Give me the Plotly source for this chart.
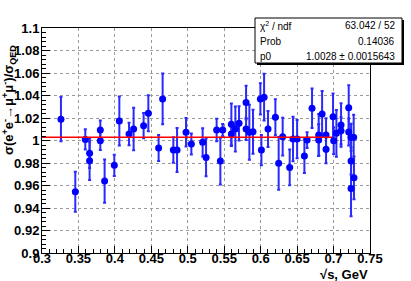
import plotly.graph_objects as go

energy = [0.326, 0.3457, 0.3594, 0.3653, 0.3653, 0.380, 0.380, 0.3859, 0.3992, 0.4061,
          0.4194, 0.4257, 0.4394, 0.4459, 0.4655, 0.460, 0.4802, 0.4853, 0.4976, 0.5049,
          0.5204, 0.5251, 0.5396, 0.5447, 0.5479, 0.5598, 0.5598, 0.5653, 0.5703, 0.580,
          0.580, 0.5845, 0.5895, 0.5996, 0.601, 0.6047, 0.6101, 0.6202, 0.6247, 0.6302,
          0.6398, 0.6444, 0.650, 0.660, 0.6637, 0.6705, 0.6796, 0.6796, 0.6843, 0.6897,
          0.6897, 0.6993, 0.7002, 0.7039, 0.7103, 0.7103, 0.7208, 0.7208, 0.724, 0.7276,
          0.724, 0.728, 0.724]
ratio = [1.019, 0.9544, 1.001, 0.9886, 0.982, 1.0094, 0.9998, 0.9639, 0.9779, 1.0174,
         1.0058, 1.0102, 1.0132, 1.0242, 1.037, 0.9933, 0.9915, 0.9915, 1.0073, 0.9969,
         0.9984, 0.985, 1.0094, 0.9817, 1.0094, 1.0144, 1.0058, 1.0102, 1.0153, 1.0337,
         1.0102, 1.0073, 1.0078, 1.037, 0.9915, 1.0385, 1.0102, 1.0207, 0.9797, 1.0034,
         0.9761, 1.0013, 1.0013, 0.9862, 1.0004, 1.0287, 1.0004, 1.0049, 1.0236, 1.0049,
         0.9922, 1.0212, 0.9998, 1.0064, 1.0138, 1.0087, 1.0292, 1.0076, 1.0029, 1.0029,
         0.9817, 0.9668, 0.9574]
ratio_err = [0.0196, 0.0178, 0.0089, 0.013, 0.017, 0.0083, 0.0083, 0.0193, 0.0094, 0.0218,
             0.010, 0.0189, 0.0113, 0.016, 0.0225, 0.0116, 0.0113, 0.0195, 0.0126, 0.0094,
             0.0126, 0.0167, 0.010, 0.0208, 0.0053, 0.0186, 0.0107, 0.020, 0.0152, 0.0149,
             0.0098, 0.0245, 0.0196, 0.0138, 0.0134, 0.0208, 0.016, 0.016, 0.0235, 0.0168,
             0.0159, 0.0197, 0.017, 0.015, 0.007, 0.0175, 0.014, 0.0187, 0.0203, 0.0149,
             0.0125, 0.0205, 0.0119, 0.0208, 0.0193, 0.012, 0.020, 0.012, 0.012, 0.020,
             0.012, 0.019, 0.0247]

fit_range = [0.3, 0.698]
fit_p0 = 1.0028
stats_labels = ["\u03c7<sup>2</sup> / ndf", "Prob", "p0"]
stats_values = ["63.042 / 52", "0.14036", "1.0028 \u00b1 0.0015643"]

W, H = 411, 281
ML, MR, MT, MB = 42, 41, 28, 28
PW, PH = W - ML - MR, H - MT - MB


def px(x):
    return (x - ML) / PW


def py(y):
    return (H - MB - y) / PH


fig = go.Figure()
fig.add_trace(go.Scatter(
    x=energy, y=ratio, mode="markers",
    marker=dict(color="#0000ff", size=7, line=dict(width=0)),
    error_y=dict(type="data", array=ratio_err, visible=True, color="#2a2aff",
                 thickness=2, width=1.5),
    showlegend=False, cliponaxis=False, hoverinfo="skip"))
fig.add_trace(go.Scatter(
    x=fit_range, y=[fit_p0, fit_p0], mode="lines",
    line=dict(color="#ff0000", width=1.5), showlegend=False, hoverinfo="skip"))

tickfont = dict(family="Liberation Sans, Arial, sans-serif", size=13, color="black", weight="bold")
fig.update_xaxes(range=[0.3, 0.75], dtick=0.05, tick0=0.3, showgrid=True,
                 gridcolor="#9a9a9a", griddash="dot", gridwidth=1,
                 showline=True, linecolor="black", linewidth=1, mirror=True,
                 ticks="inside", ticklen=7, tickcolor="black", tickwidth=1,
                 minor=dict(dtick=0.01, ticks="inside", ticklen=4, tickcolor="black", showgrid=False),
                 tickfont=tickfont, zeroline=False, ticklabelstandoff=-7, automargin=False)
fig.update_yaxes(range=[0.9, 1.1], dtick=0.02, tick0=0.9, showgrid=True,
                 gridcolor="#9a9a9a", griddash="dot", gridwidth=1,
                 showline=True, linecolor="black", linewidth=1, mirror=True,
                 ticks="inside", ticklen=8, tickcolor="black", tickwidth=1,
                 minor=dict(dtick=0.004, ticks="inside", ticklen=4, tickcolor="black", showgrid=False),
                 tickfont=tickfont, zeroline=False, ticklabelstandoff=-1, automargin=False)

# stats box
bx0, by0, bx1, by1 = 255, 18, 402, 63
fig.add_shape(type="rect", xref="paper", yref="paper",
              x0=px(bx0 + 2), x1=px(bx1 + 2), y0=py(by1 + 2), y1=py(by0 + 2),
              fillcolor="black", line=dict(width=0), layer="above")
fig.add_shape(type="rect", xref="paper", yref="paper",
              x0=px(bx0), x1=px(bx1), y0=py(by1), y1=py(by0),
              fillcolor="white", line=dict(color="black", width=1), layer="above")
rows_y = [26, 41, 56]
sfont = dict(family="Liberation Sans, Arial, sans-serif", size=10, color="black")
for lab, val, ry in zip(stats_labels, stats_values, rows_y):
    fig.add_annotation(xref="paper", yref="paper", x=px(bx0 + 3), y=py(ry), text=lab,
                       showarrow=False, xanchor="left", yanchor="middle", font=sfont)
    fig.add_annotation(xref="paper", yref="paper", x=px(bx1 - 5), y=py(ry), text=val,
                       showarrow=False, xanchor="right", yanchor="middle", font=sfont)

titlefont = dict(family="Liberation Sans, Arial, sans-serif", size=13, color="black", weight="bold")
fig.add_annotation(xref="paper", yref="paper", x=px(9), y=py(100),
                   text="\u03c3(e<sup>+</sup>e<sup>-</sup>\u2192\u03bc<sup>+</sup>\u03bc<sup>-</sup>)/\u03c3<sub>QED</sub>",
                   textangle=-90, showarrow=False, xanchor="center", yanchor="middle", font=titlefont)
fig.add_annotation(xref="paper", yref="paper", x=px(370), y=py(274),
                   text="\u221as, GeV", showarrow=False, xanchor="right", yanchor="middle",
                   font=titlefont)

fig.update_layout(width=W, height=H, margin=dict(l=ML, r=MR, t=MT, b=MB, pad=0, autoexpand=False),
                  paper_bgcolor="white", plot_bgcolor="white", hovermode=False)
fig.write_html("out.html", config={"displayModeBar": False, "staticPlot": True},
               post_script="document.body.style.margin='0px';")
